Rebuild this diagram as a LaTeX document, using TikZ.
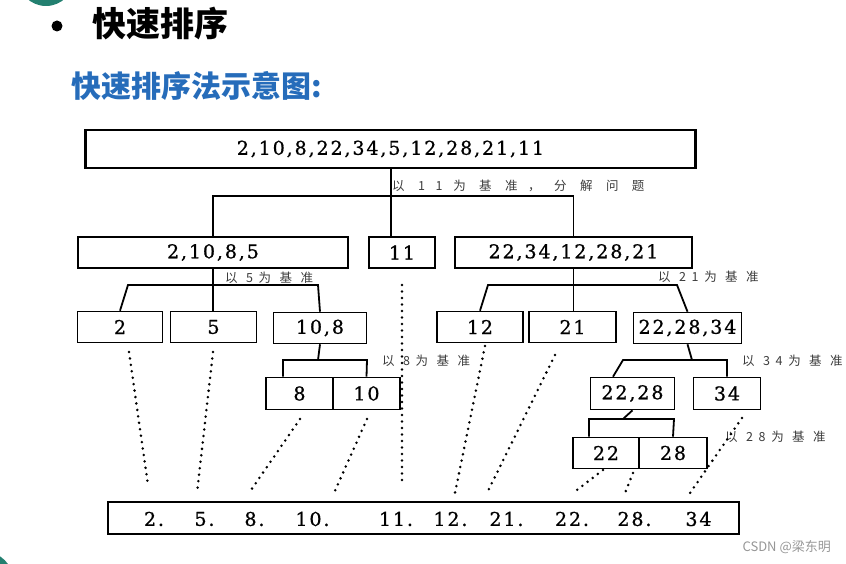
\documentclass[tikz,border=0pt]{standalone}
\usepackage{fontspec}
\usepackage{tikz}
\newfontfamily\cjk{Noto Sans CJK SC}
\newfontfamily\cjknote[LetterSpace=45]{Noto Sans CJK SC}
\newfontfamily\cjkwide[LetterSpace=85]{Noto Sans CJK SC}
\newfontfamily\numfont[LetterSpace=10,FakeBold=0.8]{DejaVu Serif}
\definecolor{titleblue}{RGB}{38,108,186}
\definecolor{slideteal}{RGB}{35,128,112}
\definecolor{markgray}{RGB}{150,150,150}
\definecolor{notegray}{RGB}{60,60,60}

\begin{document}
\begin{tikzpicture}[x=1pt,y=-1pt,
    box/.style={draw,line width=1.6pt,inner sep=0pt,minimum height=31,font=\numfont\fontsize{19}{19}\selectfont},
    bigbox/.style={box,line width=2.8pt},
    tree/.style={line width=1.8pt},
    dots/.style={line width=2.8pt,line cap=round,dash pattern=on 0pt off 6.5pt},
    note/.style={anchor=west,inner sep=0pt,text=notegray,font=\cjknote\fontsize{12.5}{12.5}\selectfont},
    num/.style={inner sep=0pt,font=\numfont\fontsize{19}{19}\selectfont}]

    \useasboundingbox (0,0) rectangle (846,564);

    % slide corners
    \begin{scope}
      \clip (0,0) rectangle (846,564);
      \fill[slideteal] (46,-22) circle (28);
      \fill[slideteal] (-15,580) circle (28);
    \end{scope}

    % heading
    \fill (57,26) circle (5.5);
    \node[anchor=west,inner sep=0pt,font=\cjk\bfseries\fontsize{34}{34}\selectfont] (title) at (92,24) {快速排序};
    \node[anchor=west,inner sep=0pt,text=titleblue,font=\cjk\bfseries\fontsize{30}{30}\selectfont] (subtitle) at (71,86) {快速排序法示意图:};

    % first split
    \node[bigbox,minimum width=610,minimum height=38] (all) at (390.5,149) {2,10,8,22,34,5,12,28,21,11};
    \node[bigbox,minimum width=270] (left) at (213,252.5) {2,10,8,5};
    \node[bigbox,minimum width=66] (p11) at (402,252.5) {11};
    \node[bigbox,minimum width=237] (right) at (573.5,252.5) {22,34,12,28,21};

    % left half
    \node[box,minimum width=85] (b2) at (120,327) {2};
    \node[box,minimum width=86] (b5) at (213.5,327) {5};
    \node[box,minimum width=93] (b108) at (320,328) {10,8};
    \node[box,minimum width=67,minimum height=32] (b8) at (299.5,393.5) {8};
    \node[box,minimum width=67,minimum height=32] (b10) at (366.5,393.5) {10};

    % right half
    \node[box,minimum width=86] (b12) at (480,327) {12};
    \node[box,minimum width=87] (b21) at (572.5,327) {21};
    \node[box,minimum width=108] (b222834) at (687.5,328) {22,28,34};
    \node[box,minimum width=84,minimum height=32] (b2228) at (632.5,393.5) {22,28};
    \node[box,minimum width=67,minimum height=32] (b34) at (727,393.5) {34};
    \node[box,minimum width=66] (b22) at (606,453) {22};
    \node[box,minimum width=68] (b28) at (673,453) {28};

    % result
    \node[bigbox,minimum width=631,minimum height=32] (res) at (423.5,518) {};
    \node[num] (r2) at (154,519) {2.};
    \node[num] (r5) at (204.5,519) {5.};
    \node[num] (r8) at (254.5,519) {8.};
    \node[num] (r10) at (312.5,519) {10.};
    \node[num] (r11) at (396,519) {11.};
    \node[num] (r12) at (450.5,519) {12.};
    \node[num] (r21) at (506.5,519) {21.};
    \node[num] (r22) at (572,519) {22.};
    \node[num] (r28) at (634.5,519) {28.};
    \node[num] (r34) at (698.5,519) {34};

    % split lines
    \coordinate (k11) at (391,196);
    \draw[tree] (all.south -| k11) -- (k11 |- p11.north);
    \draw[tree] (left.north) -- (left.north |- k11) -- (right.north |- k11) -- (right.north);

    \draw[tree] (left.south) -- (left.south |- b5.north);
    \draw[tree] (b2.north) -- (128,285) -- (318,285) -- (b108.north);
    \draw[tree] (b108.south) -- (318,360);
    \draw[tree] ([xshift=-16.5pt]b8.north) -- (283,360) -- (367,360) -- (b10.north);

    \draw[tree] (right.south) -- (right.south |- b21.north);
    \draw[tree] (b12.north) -- (488,285) -- (677,285) -- (b222834.north);
    \draw[tree] (b222834.south) -- (692,360);
    \draw[tree] ([xshift=-19.5pt]b2228.north) -- (623,360) -- (727,360) -- (b34.north);
    \draw[tree] (b2228.south) -- (623,419);
    \draw[tree] ([xshift=-17pt]b22.north) -- (589,419) -- (674,419) -- (b28.north);

    % pivots
    \node[note,font=\cjkwide\fontsize{12.5}{12.5}\selectfont] (n11) at (392,186) {以 11为 基 准， 分 解 问 题};
    \node[note] (n5) at (225,278) {以 5为 基 准};
    \node[note] (n8) at (382,361) {以 8为 基 准};
    \node[note] (n21) at (658,277) {以 21为 基 准};
    \node[note] (n34) at (742,361) {以 34为 基 准};
    \node[note] (n28) at (725,437) {以 28为 基 准};

    % merge into the result
    \foreach \from/\to in {{129,352}/{148,485},{213,352}/{197,493},{300,419}/{249,493},
        {367,419}/{334,493},{402,285}/{402,483},{485,346}/{455,493},{555,355}/{487,493},
        {603,470}/{573,493},{633,473}/{625,493},{742,418}/{690,493}}
      \draw[dots] (\from) -- (\to);

    \node[anchor=east,inner sep=0pt,text=markgray,font=\cjk\fontsize{13}{13}\selectfont] (mark) at (831,547) {CSDN @梁东明};

\end{tikzpicture}
\end{document}
